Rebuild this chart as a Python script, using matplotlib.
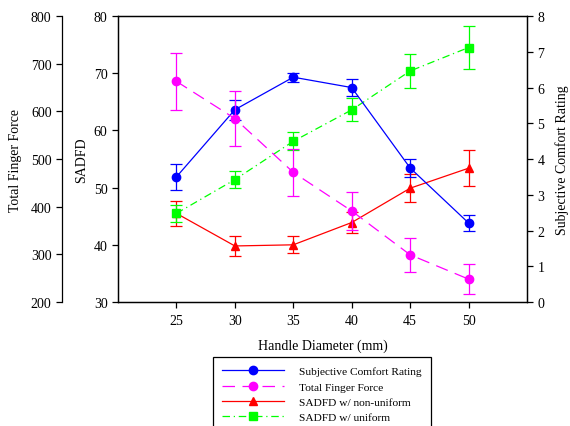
import matplotlib
matplotlib.use("Agg")
import matplotlib.pyplot as plt
from matplotlib.lines import Line2D

plt.rcParams["font.family"] = ["Liberation Serif", "DejaVu Serif"]
plt.rcParams["font.size"] = 10

# Data
diameter = [25, 30, 35, 40, 45, 50]

comfort = [3.50, 5.38, 6.29, 6.00, 3.75, 2.21]
comfort_err = [0.36, 0.28, 0.13, 0.24, 0.26, 0.22]

force = [663, 585, 472, 391, 299, 248]
force_err = [60, 57, 49, 39, 35, 31]

sadfd_nonuni = [45.5, 39.8, 40.0, 43.9, 49.9, 53.4]
sadfd_nonuni_err = [2.2, 1.7, 1.5, 1.8, 2.5, 3.2]

sadfd_uni = [45.5, 51.4, 58.1, 63.6, 70.4, 74.5]
sadfd_uni_err = [1.5, 1.5, 1.6, 2.0, 3.0, 3.7]

fig = plt.figure(figsize=(5.7, 4.27), dpi=100)
ax = fig.add_axes([0.207, 0.2904, 0.7176, 0.6696])
ax_r = ax.twinx()
ax_f = ax.twinx()

dash = (0, (10, 6))
dashdot = (0, (6, 3, 1, 3))
common = dict(capsize=4, markersize=6, linewidth=0.9, elinewidth=0.9, capthick=0.9)

ax_r.errorbar(diameter, comfort, yerr=comfort_err, color="#0000ff", marker="o",
              linestyle="-", **common)
ax_f.errorbar(diameter, force, yerr=force_err, color="#ff00ff", marker="o",
              linestyle=dash, **common)
ax.errorbar(diameter, sadfd_nonuni, yerr=sadfd_nonuni_err, color="#ff0000", marker="^",
            linestyle="-", **common)
ax.errorbar(diameter, sadfd_uni, yerr=sadfd_uni_err, color="#00ff00", marker="s",
            linestyle=dashdot, **common)

ax.set_xlim(20, 55)
ax.set_xticks(diameter)
ax.set_ylim(30, 80)
ax.set_yticks(range(30, 81, 10))
ax.set_xlabel("Handle Diameter (mm)", labelpad=8)
ax.set_ylabel("SADFD", labelpad=4)
ax.tick_params(direction="out", length=4, width=0.9)
ax.tick_params(axis="x", top=False, pad=5)

ax_r.set_ylim(0, 8)
ax_r.set_yticks(range(0, 9))
ax_r.set_ylabel("Subjective Comfort Rating", labelpad=8)
ax_r.tick_params(direction="out", length=4, width=0.9)

ax_f.set_ylim(200, 800)
ax_f.set_yticks(range(200, 801, 100))
ax_f.yaxis.set_ticks_position("left")
ax_f.yaxis.set_label_position("left")
ax_f.spines["left"].set_position(("axes", -0.137))
for s in ["right", "top", "bottom"]:
    ax_f.spines[s].set_visible(False)
ax_f.set_ylabel("Total Finger Force", labelpad=6)
ax_f.tick_params(direction="out", length=4, width=0.9)

for a in (ax, ax_r, ax_f):
    for s in a.spines.values():
        s.set_linewidth(0.9)

handles = [
    Line2D([], [], color="#0000ff", marker="o", linestyle="-", markersize=6, linewidth=0.9),
    Line2D([], [], color="#ff00ff", marker="o", linestyle=dash, markersize=6, linewidth=0.9),
    Line2D([], [], color="#ff0000", marker="^", linestyle="-", markersize=6, linewidth=0.9),
    Line2D([], [], color="#00ff00", marker="s", linestyle=dashdot, markersize=6, linewidth=0.9),
]
labels = ["Subjective Comfort Rating", "Total Finger Force",
          "SADFD w/ non-uniform", "SADFD w/ uniform"]
leg = fig.legend(handles, labels, loc="upper left", bbox_to_anchor=(212.7 / 570, 1 - 357.7 / 427),
                 fontsize=8.2, handlelength=5.4, handletextpad=1.3, borderpad=0.85,
                 borderaxespad=0, labelspacing=0.46, fancybox=False, framealpha=1,
                 edgecolor="black", numpoints=1)
leg.get_frame().set_linewidth(0.9)

fig.savefig("out.png", dpi=100)
